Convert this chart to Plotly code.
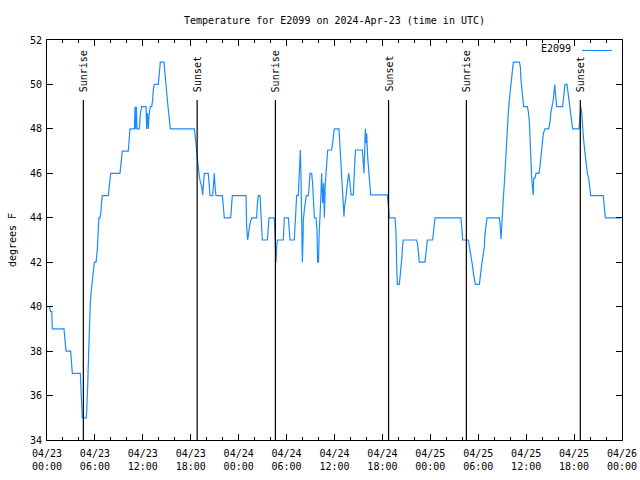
import pandas as pd
import plotly.graph_objects as go

# ---- data (hours after 2024-04-23 00:00 UTC, degrees F) ----
start = "2024-04-23 00:00"
hours = [
    0.30, 0.45, 0.60, 0.67, 2.13, 2.25, 2.38, 2.96, 3.10, 3.17,
    4.17, 4.25, 4.32, 4.42, 4.93, 5.00, 5.10, 5.20, 5.30, 5.43,
    5.55, 5.68, 5.80, 5.93, 6.14, 6.30, 6.43, 6.50, 6.64, 6.76,
    6.85, 6.93, 7.68, 7.76, 7.85, 7.97, 9.14,
    9.30, 9.43, 10.18, 10.28, 10.35, 10.39, 10.94, 11.02, 11.10, 11.19,
    11.27, 11.56, 11.70, 11.85, 12.40, 12.48, 12.58, 12.68, 12.80, 12.94,
    13.11, 13.23, 13.31, 13.44, 13.94, 14.07, 14.19, 14.65, 14.73, 14.90,
    15.07, 15.19, 15.32, 15.44, 18.45,
    18.53, 18.66, 18.74, 18.82, 18.95, 19.07, 19.20, 19.37, 19.49, 19.58,
    19.70, 20.20, 20.30, 20.41, 20.74, 20.83, 20.95, 21.04, 21.16, 21.96,
    22.08, 22.20, 23.00, 23.10, 23.21, 24.92, 25.00, 25.13, 25.29, 25.42,
    25.63, 26.25, 26.35, 26.46, 26.67, 26.80, 26.96, 27.59, 27.70, 27.80,
    28.47, 28.55, 28.62, 28.68, 28.76, 28.85, 29.59, 29.68, 29.72, 30.22,
    30.30, 30.43, 30.97,
    31.05, 31.16, 31.26, 31.47, 31.60, 31.68, 31.72, 31.80, 31.89, 31.97,
    32.05, 32.10, 32.22, 32.35, 32.47, 32.72, 32.80, 32.93, 33.14, 33.26,
    33.39, 33.48, 33.68, 33.80, 33.89, 34.00, 34.06, 34.19, 34.30, 34.39,
    34.52, 34.64, 34.73, 34.85, 34.95, 35.05, 35.15, 35.65, 35.75, 35.88,
    35.98, 36.56, 36.65, 36.77, 36.88, 37.00, 37.10, 37.19, 37.25, 37.40,
    37.52, 37.65, 37.77, 37.90, 38.07, 38.36, 38.45, 38.57, 38.65, 39.49,
    39.60, 39.69, 39.78, 39.86, 39.94, 40.03, 40.15, 40.32, 40.45, 40.53,
    42.62,
    42.70, 42.79, 42.87, 43.58, 43.70, 43.79, 43.87, 44.12, 44.20, 44.33,
    44.45, 44.53, 44.62, 46.29, 46.42, 46.54, 46.62, 47.33, 47.42, 47.54,
    47.63, 48.29, 48.38, 48.50, 48.58, 51.84, 51.96, 52.05, 52.76, 52.87,
    53.05, 53.17, 53.30, 53.39, 53.51, 53.64, 54.14, 54.22, 54.35, 54.47,
    54.60, 54.76, 54.85, 54.97, 55.10, 56.64,
    56.72, 56.85, 56.93, 57.06, 57.15, 57.27, 57.39, 57.52, 57.64, 57.77,
    57.89, 58.02, 58.19, 58.31, 58.39, 59.15, 59.27, 59.35, 59.48, 59.56,
    59.69, 60.15, 60.27, 60.40, 60.48, 60.56, 60.69, 60.82, 60.90, 60.94,
    61.11, 61.23, 61.61, 61.73, 61.82, 61.94, 62.15, 62.36, 62.82, 62.99,
    63.11, 63.24, 63.40, 63.57, 63.70, 63.82, 64.57, 64.74, 64.86, 65.11,
    65.24, 65.36, 65.49, 65.66, 65.82, 66.62, 66.74, 66.83, 66.95, 67.03,
    67.16, 67.28, 67.41, 67.53, 67.66, 67.83, 67.95, 68.08, 69.66, 69.79,
    69.91, 71.90,
]
temps = [
    40, 39.78, 39.78, 39, 39, 38.28, 38, 38, 37.3, 37,
    37, 36.48, 35.5, 35, 35, 35.5, 36.48, 37.75, 39.25, 40.23,
    40.75, 41.28, 41.58, 42, 42, 42.55, 43.53, 44, 44, 44.28,
    44.77, 45, 45, 45.25, 45.7, 46, 46,
    46.7, 47, 47, 47.35, 47.68, 48, 48, 49, 48, 49,
    48, 48, 48.7, 49, 49, 48, 48.7, 48, 48.7, 49,
    49, 49.3, 49.75, 50, 50, 50.53, 51, 51, 50.53, 50,
    49.3, 48.78, 48.25, 48, 48,
    47.8, 47.35, 46.97, 46.6, 46.22, 45.85, 45.63, 45.4, 45.03, 45.63,
    46, 46, 45.4, 45, 45, 45.63, 46, 45.4, 45, 45,
    44.35, 44, 44, 44.65, 45, 45, 43.6, 43, 43.45, 43.75,
    44, 44, 44.65, 45, 45, 44.27, 43, 43, 43.75, 44,
    44, 43.4, 42.45, 42, 42.7, 43, 43, 43.6, 44, 44,
    43.68, 43, 43,
    43.6, 44.5, 45, 45, 46, 46.53, 47.05, 46, 43.4, 42,
    42.9, 43.9, 44.35, 44.8, 45, 45, 45.25, 46, 46, 45.55,
    44.65, 44, 44, 43.5, 42, 42, 43.1, 43.9, 45, 46,
    44.65, 45.55, 44, 45.55, 46.23, 46.75, 47.05, 47.05, 47.35, 47.8,
    48, 48, 47.35, 46.53, 45.7, 44.95, 44.43, 44.05, 44.5, 44.8,
    45.25, 45.7, 46, 45.7, 45.03, 45.03, 46, 46.75, 47.05, 47.05,
    46.5, 46, 47.05, 48, 47.35, 47.8, 46.75, 46, 45.4, 45.03,
    45.03,
    44.72, 44.27, 44, 44, 43.3, 41.8, 41, 41, 41.27, 41.73,
    42.25, 42.78, 43, 43, 42.78, 42.33, 42, 42, 42.33, 42.78,
    43, 43, 43.3, 43.75, 44, 44, 43.52, 43, 43, 42.78,
    42.25, 42, 41.8, 41.5, 41.27, 41, 41, 41.3, 41.75, 42,
    42.3, 42.7, 43.3, 43.75, 44, 44,
    43.75, 43.03, 43.75, 44.5, 44.95, 45.55, 46.45, 47.5, 48.25, 48.78,
    49.3, 49.75, 50.35, 50.8, 51, 51, 50.8, 50.2, 49.75, 49.23,
    49, 49, 48.78, 48.33, 47.5, 46.53, 45.78, 45.25, 45.03, 45.78,
    45.78, 46, 46, 46.3, 46.75, 47.05, 47.8, 48, 48, 48.33,
    48.78, 49, 49.3, 50, 49.3, 49, 49, 49.6, 50, 50,
    49.6, 49.23, 48.78, 48.33, 48, 48, 48.55, 49, 48.78, 48.1,
    47.65, 47.2, 46.75, 46.3, 46, 45.78, 45.25, 45, 45, 44.5,
    44, 44,
]
sunrise_hours = [4.55, 28.60, 52.51]
sunset_hours = [18.80, 42.77, 66.78]
series_name = "E2099"
title_text = "Temperature for E2099 on 2024-Apr-23 (time in UTC)"
y_label = "degrees F"

base = pd.Timestamp(start)
to_time = lambda h: base + pd.to_timedelta(h, unit="h")
times = [to_time(h) for h in hours]

FONT = "DejaVu Sans Mono"
LINE_COLOR = "#1a8cff"

fig = go.Figure()
fig.add_trace(go.Scatter(
    x=times, y=temps, mode="lines", name="",
    line=dict(color=LINE_COLOR, width=1.2),
    hoverinfo="x+y",
))

events = [(h, "Sunrise") for h in sunrise_hours] + [(h, "Sunset") for h in sunset_hours]
for h, label in events:
    t = to_time(h)
    fig.add_shape(type="line", xref="x", yref="y domain",
                  x0=t, x1=t, y0=0, y1=0.85,
                  line=dict(color="black", width=1.2))
    fig.add_annotation(x=t, xref="x", y=0.85, yref="y domain",
                       text=label, textangle=-90, showarrow=False,
                       xanchor="center", yanchor="bottom", yshift=6,
                       font=dict(family=FONT, size=10, color="black"))

# series key text (legend shows the line sample to its right)
fig.add_annotation(x=(573 - 47) / 575, xref="paper", y=(440 - 49) / 400, yref="paper",
                   text=series_name, showarrow=False, xanchor="right", yanchor="middle",
                   font=dict(family=FONT, size=10, color="black"))

tick_common = dict(
    showline=True, linecolor="black", linewidth=1, mirror="allticks",
    ticks="inside", tickcolor="black", showgrid=False, zeroline=False,
    automargin=False,
    tickfont=dict(family=FONT, size=10, color="black"),
)

fig.update_xaxes(
    range=[base, to_time(72)], type="date",
    tick0=base, dtick=6 * 3600 * 1000, tickformat="%m/%d<br>%H:%M",
    ticklen=6, ticklabelstandoff=4,
    minor=dict(dtick=2 * 3600 * 1000, ticks="inside", ticklen=3, tickcolor="black"),
    **tick_common,
)
fig.update_yaxes(
    range=[34, 52], dtick=2, ticklen=6, ticklabelstandoff=2,
    title=dict(text=y_label, font=dict(family=FONT, size=10, color="black"), standoff=11),
    **tick_common,
)

fig.update_layout(
    width=640, height=480,
    margin=dict(l=47, r=18, t=40, b=40, autoexpand=False),
    paper_bgcolor="white", plot_bgcolor="white",
    title=dict(text=title_text, x=0.5, xref="paper", xanchor="center",
               y=1 - 20 / 480, yref="container", yanchor="middle",
               font=dict(family=FONT, size=10, color="black")),
    showlegend=True,
    legend=dict(x=1.0, xanchor="right", y=1.01, yanchor="top",
                bgcolor="rgba(0,0,0,0)", borderwidth=0,
                font=dict(family=FONT, size=10, color="black")),
    font=dict(family=FONT, size=10, color="black"),
)

fig.write_html("out.html",
               config={"displayModeBar": False},
               post_script="document.body.style.margin='0';document.body.style.padding='0';")
